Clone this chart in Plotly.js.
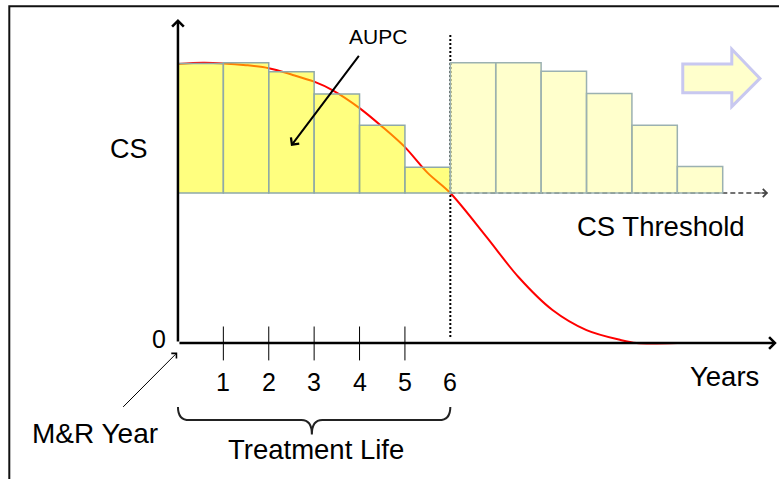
<!DOCTYPE html>
<html>
<head>
<meta charset="utf-8">
<script src="https://cdn.plot.ly/plotly-3.0.1.min.js"></script>
<style>html,body{margin:0;padding:0;background:#fff;}#chart{width:779px;height:479px;}</style>
</head>
<body>
<div id="chart"></div>
<script>
// ---- data ----
const years = [1, 2, 3, 4, 5, 6];
const tickLabels = ['1', '2', '3', '4', '5', '6'];
const csThreshold = 50;
const cycle1CS = [93.2, 93.4, 90.4, 83.0, 72.6, 58.6];   // CS at each year of treatment life (bar tops)
const cycle2CS = [93.4, 93.4, 90.6, 83.2, 72.6, 58.8];   // next treatment cycle
const curveX = [0, 0.55, 1, 1.5, 2, 2.5, 3, 3.4, 4, 4.5, 5, 5.5, 6, 6.8, 7.5, 8.25, 9, 9.75, 10.1, 11];
const curveY = [93.0, 93.4, 93.2, 92.6, 91.6, 89.5, 87.1, 84.3, 78.3, 72.1, 65.3, 56.7, 50.0, 35.3, 22.0, 11.0, 4.3, 1.0, 0.0, 0.0];
const treatmentLife = 6;
const xAxisEnd = 13.19;
const yAxisEnd = 108;
const thresholdEnd = 13.0;

// ---- build ----
const FONT = 'Arial, "Liberation Sans", sans-serif';
const XR = [-3.92, 13.24];
const YR = [-45.33, 114.33];

const tickX = [], tickY = [];
years.slice(0, 5).forEach(v => { tickX.push(v, v, null); tickY.push(5.5, -5.8, null); });

const traces = [
  // performance curve (under bars)
  {type: 'scatter', mode: 'lines', x: curveX, y: curveY, xaxis: 'x', yaxis: 'y',
   line: {color: '#ff0000', width: 2, shape: 'spline', smoothing: 0.9}, hoverinfo: 'skip'},
  // year tick marks
  {type: 'scatter', mode: 'lines', x: tickX, y: tickY, xaxis: 'x', yaxis: 'y',
   line: {color: '#000', width: 1}, hoverinfo: 'skip'},
  // treatment life end (dotted)
  {type: 'scatter', mode: 'lines', x: [treatmentLife, treatmentLife], y: [102.7, 1.5], xaxis: 'x', yaxis: 'y',
   line: {color: '#000', width: 2, dash: '2px,2px'}, hoverinfo: 'skip'},
  // threshold dashed
  {type: 'scatter', mode: 'lines', x: [treatmentLife, thresholdEnd], y: [csThreshold, csThreshold], xaxis: 'x', yaxis: 'y',
   line: {color: '#444', width: 1.3, dash: '5px,3px'}, hoverinfo: 'skip'},
  // bars - treatment cycle 1 (overlay axes so they sit above the curve)
  {type: 'bar', x: years.map(v => v - 0.5), y: cycle1CS.map(v => v - csThreshold), base: csThreshold,
   width: 1, xaxis: 'x2', yaxis: 'y2',
   marker: {color: 'rgba(255,255,0,0.5)', line: {color: '#8fa9a9', width: 1.5}}, hoverinfo: 'skip'},
  // bars - next cycle
  {type: 'bar', x: years.map(v => treatmentLife + v - 0.5), y: cycle2CS.map(v => v - csThreshold), base: csThreshold,
   width: 1, xaxis: 'x2', yaxis: 'y2',
   marker: {color: 'rgba(255,255,0,0.2)', line: {color: '#9bb1b1', width: 1.5}}, hoverinfo: 'skip'}
];

function txt(text, x, y, size, extra) {
  return Object.assign({text: text, x: x, y: y, xref: 'x', yref: 'y', showarrow: false,
    xanchor: 'center', yanchor: 'middle', font: {family: FONT, size: size, color: '#000'}}, extra || {});
}
function arrow(x, y, ax, ay, width, head, size, color) {
  return {text: '', x: x, y: y, ax: ax, ay: ay, xref: 'x', yref: 'y', axref: 'x', ayref: 'y',
    showarrow: true, arrowhead: head, arrowsize: size, arrowwidth: width, arrowcolor: color || '#000',
    standoff: 0, startstandoff: 0};
}

const annotations = [
  arrow(xAxisEnd, 0, 0, 0, 2.5, 4, 0.9),
  arrow(0, yAxisEnd, 0, 0, 2.5, 4, 0.9),
  arrow(thresholdEnd, csThreshold, thresholdEnd - 0.25, csThreshold, 1.2, 4, 1.3, '#444'),
  arrow(2.49, 65.7, 4.01, 96.2, 2, 4, 1.0),
  arrow(-0.016, -3.2, -1.24, -21.8, 1, 4, 1.4),
  txt('AUPC', 4.41, 102.3, 21),
  txt('CS', -1.08, 64.7, 27),
  txt('CS Threshold', 10.64, 39, 27.5),
  txt('Years', 12.03, -11, 27.5),
  txt('0', -0.42, 1.5, 25),
  txt('M&amp;R Year', -1.83, -30, 28),
  txt('Treatment Life', 3.04, -35.5, 27.5)
];
years.forEach((v, i) => annotations.push(txt(tickLabels[i], v, -13, 25)));

const shapes = [
  // frame
  {type: 'rect', xref: 'paper', yref: 'paper', x0: 9.3 / 779, x1: 1.2, y0: -0.2, y1: 1 - 6.2 / 479,
   line: {color: '#111', width: 2}, fillcolor: 'rgba(0,0,0,0)'},
  // treatment life brace
  {type: 'path', xref: 'x', yref: 'y',
   path: 'M 0,-21.3 Q 0,-25.7 0.25,-25.7 L 2.72,-25.7 Q 2.95,-25.7 2.95,-30.5 Q 2.95,-25.7 3.18,-25.7 L 5.75,-25.7 Q 6,-25.7 6,-21.3',
   line: {color: '#222', width: 2}},
  // block arrow (continues)
  {type: 'path', xref: 'x', yref: 'y',
   path: 'M 11.12,93 L 12.2,93 L 12.2,97.9 L 12.82,88.2 L 12.2,78.8 L 12.2,83.4 L 11.12,83.4 Z',
   fillcolor: '#ffffcc', line: {color: '#c8c8f0', width: 3}}
];

const axisBase = {range: XR, visible: false, fixedrange: true, showgrid: false, zeroline: false};
const yaxisBase = {range: YR, visible: false, fixedrange: true, showgrid: false, zeroline: false};

const layout = {
  width: 779, height: 479,
  margin: {l: 0, r: 0, t: 0, b: 0, pad: 0},
  paper_bgcolor: '#fff', plot_bgcolor: 'rgba(0,0,0,0)',
  showlegend: false,
  barmode: 'overlay',
  xaxis: Object.assign({}, axisBase),
  yaxis: Object.assign({}, yaxisBase),
  xaxis2: Object.assign({}, axisBase, {overlaying: 'x'}),
  yaxis2: Object.assign({}, yaxisBase, {overlaying: 'y'}),
  annotations: annotations,
  shapes: shapes
};

Plotly.newPlot('chart', traces, layout, {staticPlot: true, displayModeBar: false});
</script>
</body>
</html>
